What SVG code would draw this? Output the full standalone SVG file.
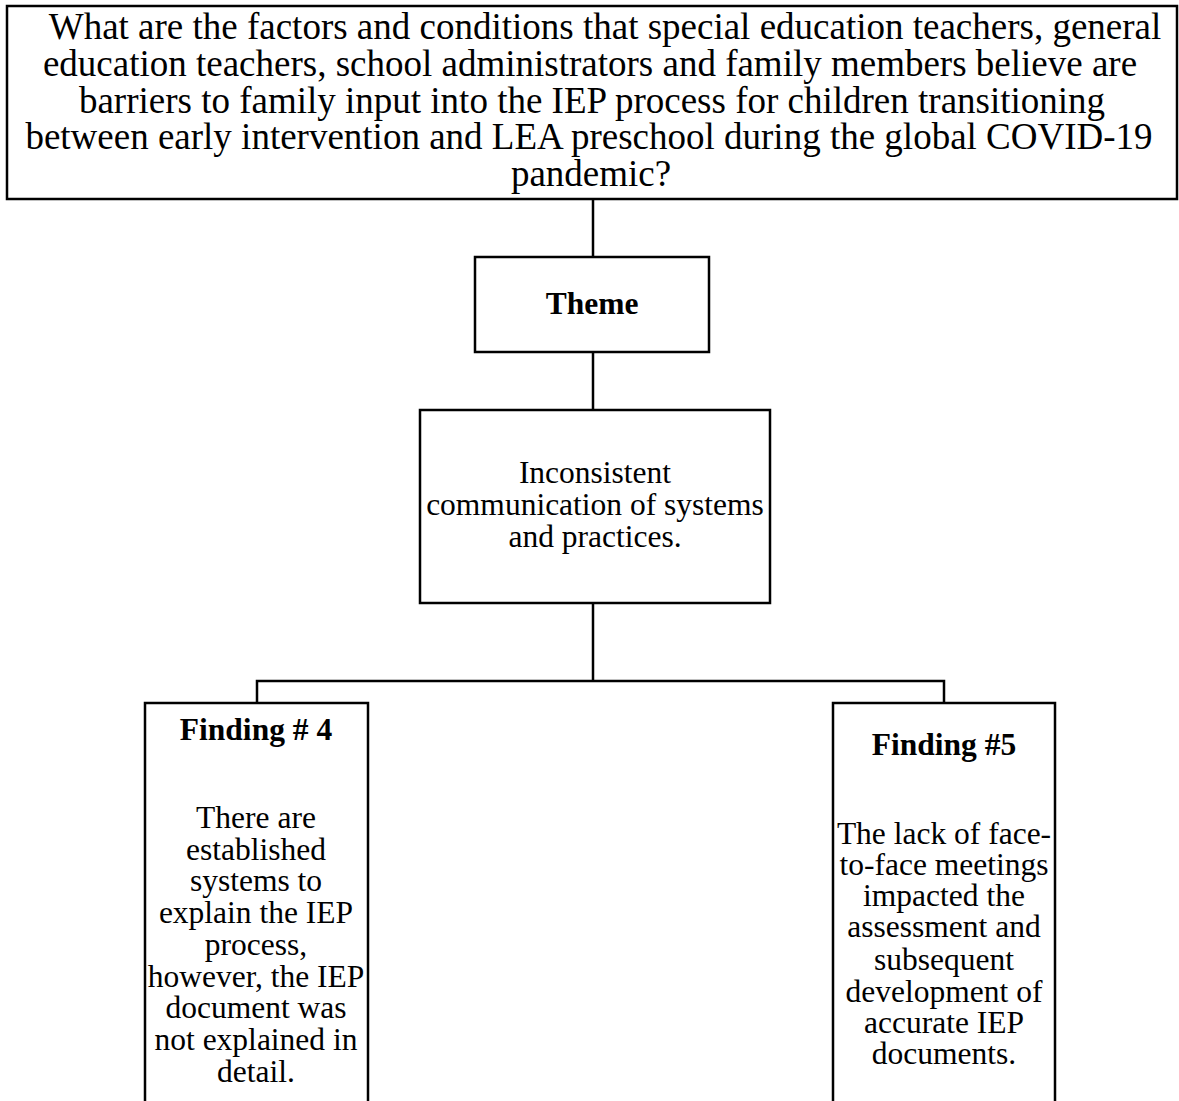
<svg xmlns="http://www.w3.org/2000/svg" width="1179" height="1101" viewBox="0 0 1179 1101">
  <style>
    .box { fill: #ffffff; stroke: #000000; stroke-width: 2.5; }
    .link { fill: none; stroke: #000000; stroke-width: 2.5; }
    .txt { font-family: "Liberation Serif", "Times New Roman", serif; fill: #000000; text-anchor: middle; }
    .q { font-size: 37px; }
    .body { font-size: 31.5px; }
    .bold { font-size: 31.5px; font-weight: bold; }
  </style>
  <rect width="1179" height="1101" fill="#ffffff"/>

  <!-- connectors -->
  <g id="connectors">
    <line class="link" x1="593" y1="199" x2="593" y2="257"/>
    <line class="link" x1="593" y1="352" x2="593" y2="410"/>
    <polyline class="link" points="593,603 593,681"/>
    <polyline class="link" points="257,703 257,681 944,681 944,703"/>
  </g>

  <!-- research question -->
  <g id="question">
    <rect class="box" x="7" y="6" width="1170" height="193"/>
    <text class="txt q" x="605" y="39">What are the factors and conditions that special education teachers, general</text>
    <text class="txt q" x="590" y="76">education teachers, school administrators and family members believe are</text>
    <text class="txt q" x="592" y="113">barriers to family input into the IEP process for children transitioning</text>
    <text class="txt q" x="589" y="149">between early intervention and LEA preschool during the global COVID-19</text>
    <text class="txt q" x="591" y="186">pandemic?</text>
  </g>

  <!-- theme label -->
  <g id="theme">
    <rect class="box" x="475" y="257" width="234" height="95"/>
    <text class="txt bold" x="592" y="314">Theme</text>
  </g>

  <!-- theme statement -->
  <g id="theme-statement">
    <rect class="box" x="420" y="410" width="350" height="193"/>
    <text class="txt body" x="595" y="483">Inconsistent</text>
    <text class="txt body" x="595" y="515">communication of systems</text>
    <text class="txt body" x="595" y="547">and practices.</text>
  </g>

  <!-- finding 4 -->
  <g id="finding-4">
    <rect class="box" x="145" y="703" width="223" height="410"/>
    <text class="txt bold" x="256" y="740">Finding # 4</text>
    <text class="txt body" x="256" y="828">There are</text>
    <text class="txt body" x="256" y="860">established</text>
    <text class="txt body" x="256" y="891">systems to</text>
    <text class="txt body" x="256" y="923">explain the IEP</text>
    <text class="txt body" x="256" y="955">process,</text>
    <text class="txt body" x="256" y="987">however, the IEP</text>
    <text class="txt body" x="256" y="1018">document was</text>
    <text class="txt body" x="256" y="1050">not explained in</text>
    <text class="txt body" x="256" y="1082">detail.</text>
  </g>

  <!-- finding 5 -->
  <g id="finding-5">
    <rect class="box" x="833" y="703" width="222" height="410"/>
    <text class="txt bold" x="944" y="755">Finding #5</text>
    <text class="txt body" x="944" y="844">The lack of face-</text>
    <text class="txt body" x="944" y="875">to-face meetings</text>
    <text class="txt body" x="944" y="906">impacted the</text>
    <text class="txt body" x="944" y="937">assessment and</text>
    <text class="txt body" x="944" y="970">subsequent</text>
    <text class="txt body" x="944" y="1002">development of</text>
    <text class="txt body" x="944" y="1033">accurate IEP</text>
    <text class="txt body" x="944" y="1064">documents.</text>
  </g>
</svg>
